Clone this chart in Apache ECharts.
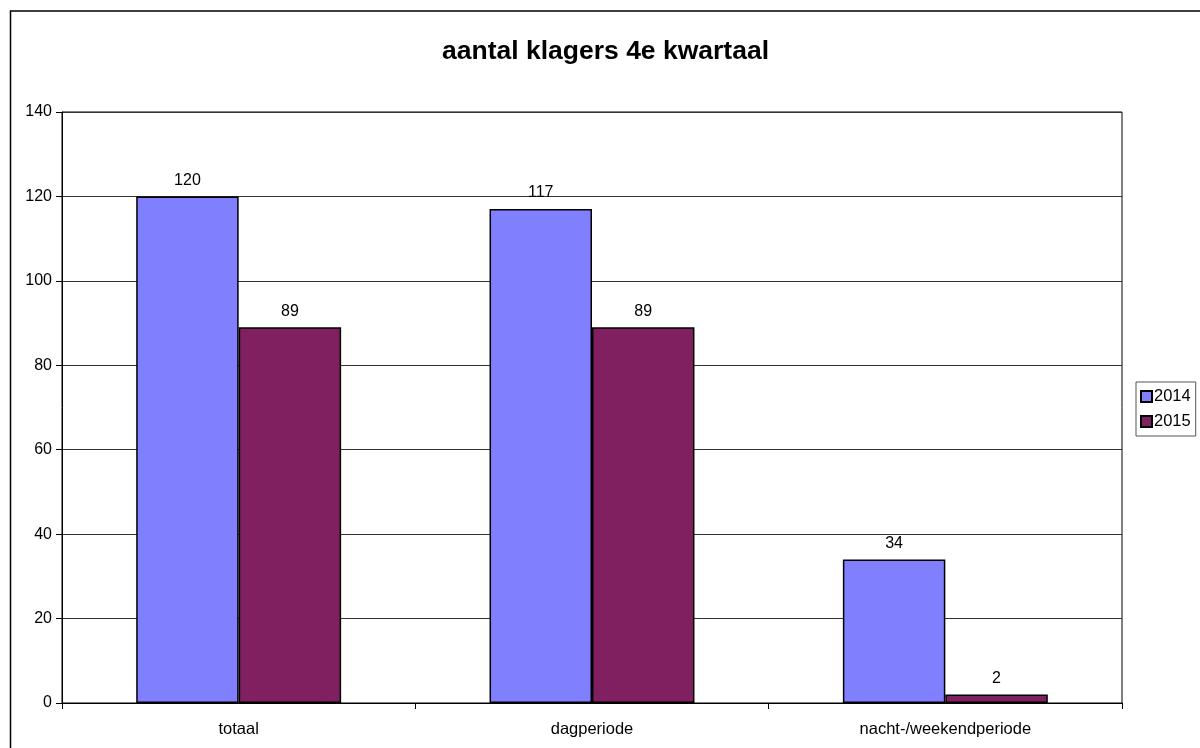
<!DOCTYPE html>
<html>
<head>
<meta charset="utf-8">
<script src="https://cdn.jsdelivr.net/npm/echarts@6/dist/echarts.min.js"></script>
<style>
html,body{margin:0;padding:0;background:#fff;}
#chart{width:1200px;height:748px;}
</style>
</head>
<body>
<div id="chart"></div>
<script>
const categories = ['totaal', 'dagperiode', 'nacht-/weekendperiode'];
const values2014 = [120, 117, 34];
const values2015 = [89, 89, 2];
const seriesNames = ['2014', '2015'];
const titleText = 'aantal klagers 4e kwartaal';

const chart = echarts.init(document.getElementById('chart'), null, {renderer: 'canvas'});
const font = 'Liberation Sans, Arial, sans-serif';
const label = {show: true, position: 'top', distance: 8, color: '#000', fontFamily: font, fontSize: 16};
chart.setOption({
  animation: false,
  backgroundColor: '#fff',
  title: {
    text: titleText, left: 442, top: 38, padding: 0,
    textStyle: {fontFamily: font, fontSize: 26.5, fontWeight: 'bold', color: '#000'}
  },
  graphic: [{
    type: 'rect', left: 8, top: 8.5, z: -1,
    shape: {width: 1300, height: 900},
    style: {fill: 'none', stroke: '#000', lineWidth: 1.5}
  }],
  legend: {
    orient: 'vertical', left: 1136, top: 382,
    data: seriesNames,
    icon: 'rect', itemWidth: 11, itemHeight: 11, itemGap: 8,
    borderColor: '#555', borderWidth: 1, padding: [6, 5, 6, 4],
    textStyle: {fontFamily: font, fontSize: 16.5, color: '#000', padding: [0, 0, 0, -3]}
  },
  grid: {left: 62, right: 78, top: 112, bottom: 45, show: true, borderColor: '#000', borderWidth: 1},
  xAxis: {
    type: 'category', data: categories,
    axisLine: {lineStyle: {color: '#000'}},
    axisTick: {show: true, length: 6, lineStyle: {color: '#000'}},
    axisLabel: {fontFamily: font, fontSize: 16.5, color: '#000', margin: 18}
  },
  yAxis: {
    type: 'value', min: 0, max: 140, interval: 20,
    axisLine: {show: true, lineStyle: {color: '#000'}},
    axisTick: {show: true, length: 6, lineStyle: {color: '#000'}},
    axisLabel: {fontFamily: font, fontSize: 16, color: '#000', margin: 10},
    splitLine: {lineStyle: {color: '#333', width: 1}}
  },
  series: [
    {name: seriesNames[0], type: 'bar', data: values2014, barGap: '0%', barCategoryGap: '42%',
     itemStyle: {color: '#8080FF', borderColor: '#000', borderWidth: 1.5}, label: label},
    {name: seriesNames[1], type: 'bar', data: values2015,
     itemStyle: {color: '#802060', borderColor: '#000', borderWidth: 1.5}, label: label}
  ]
});
</script>
</body>
</html>
